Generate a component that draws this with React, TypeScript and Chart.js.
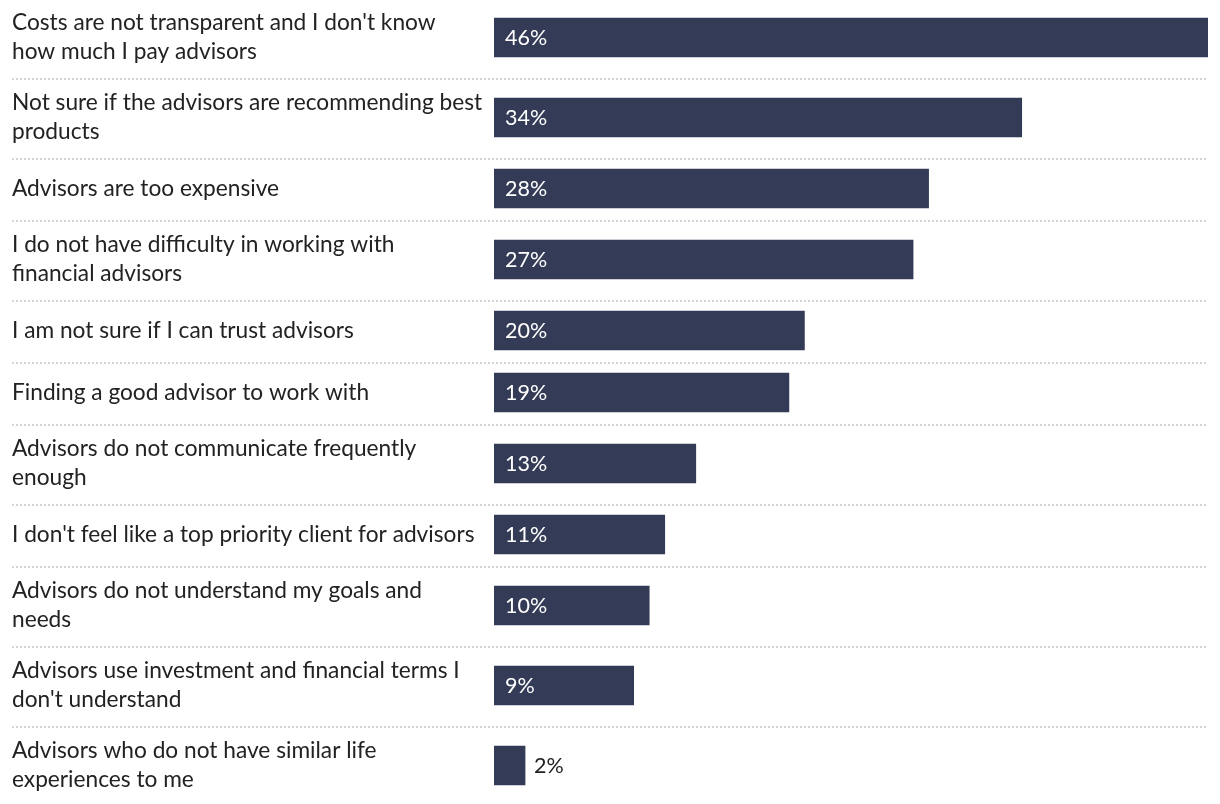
import React, { useEffect, useRef } from "react";
import { Chart, registerables } from "chart.js";

Chart.register(...registerables);

const categories: string[][] = [
  ["Costs are not transparent and I don't know", "how much I pay advisors"],
  ["Not sure if the advisors are recommending best", "products"],
  ["Advisors are too expensive"],
  ["I do not have difficulty in working with", "financial advisors"],
  ["I am not sure if I can trust advisors"],
  ["Finding a good advisor to work with"],
  ["Advisors do not communicate frequently", "enough"],
  ["I don't feel like a top priority client for advisors"],
  ["Advisors do not understand my goals and", "needs"],
  ["Advisors use investment and financial terms I", "don't understand"],
  ["Advisors who do not have similar life", "experiences to me"],
];

const values: number[] = [46, 34, 28, 27, 20, 19, 13, 11, 10, 9, 2];

const FONT = "Lato";
const BAR_COLOR = "#343b57";
const TEXT_COLOR = "#222222";

// row heights derived from the number of label lines
const ROW_ONE = 62;
const ROW_TWO = 80;

export default function App() {
  const ref = useRef<HTMLCanvasElement | null>(null);

  useEffect(() => {
    if (!ref.current) return;
    const heights = categories.map((c) => (c.length > 1 ? ROW_TWO : ROW_ONE));
    const centers: number[] = [];
    const bounds: number[] = [];
    let acc = 0;
    heights.forEach((h, i) => {
      centers.push(acc + h / 2);
      acc += h;
      if (i < heights.length - 1) bounds.push(acc);
    });
    const total = acc;

    const separators = {
      id: "separators",
      beforeDatasetsDraw(chart: any) {
        const ctx = chart.ctx;
        const y = chart.scales.y;
        ctx.save();
        ctx.strokeStyle = "#d6d6d6";
        ctx.lineWidth = 2;
        ctx.setLineDash([2, 2]);
        bounds.forEach((b) => {
          const py = Math.round(y.getPixelForValue(b)) + 1;
          ctx.beginPath();
          ctx.moveTo(12, py);
          ctx.lineTo(chart.chartArea.right, py);
          ctx.stroke();
        });
        ctx.restore();
      },
    };

    const valueLabels = {
      id: "valueLabels",
      afterDatasetsDraw(chart: any) {
        const ctx = chart.ctx;
        const meta = chart.getDatasetMeta(0);
        ctx.save();
        ctx.font = `21.5px ${FONT}`;
        ctx.textBaseline = "middle";
        ctx.textAlign = "left";
        meta.data.forEach((bar: any, i: number) => {
          const text = values[i] + "%";
          const w = ctx.measureText(text).width;
          const len = bar.x - bar.base;
          if (len > w + 20) {
            ctx.fillStyle = "#ffffff";
            ctx.fillText(text, bar.base + 11, bar.y + 1);
          } else {
            ctx.fillStyle = TEXT_COLOR;
            ctx.fillText(text, bar.x + 9, bar.y + 1);
          }
        });
        ctx.restore();
      },
    };

    const chart = new Chart(ref.current, {
      type: "bar",
      data: {
        datasets: [
          {
            data: values.map((v, i) => ({ x: v, y: centers[i] })) as any,
            backgroundColor: BAR_COLOR,
            borderWidth: 0,
            barThickness: 39,
          },
        ],
      },
      options: {
        indexAxis: "y",
        animation: false,
        responsive: true,
        maintainAspectRatio: false,
        layout: { padding: { left: 12, right: 12, top: 0, bottom: 0 } },
        plugins: {
          legend: { display: false },
          tooltip: { enabled: false },
        },
        scales: {
          x: {
            type: "linear",
            min: 0,
            max: 46,
            display: false,
          },
          y: {
            type: "linear",
            reverse: true,
            offset: false,
            min: 2.5,
            max: total - 1.5,
            grid: { display: false },
            border: { display: false },
            afterBuildTicks: (scale: any) => {
              scale.ticks = centers.map((c) => ({ value: c }));
            },
            afterFit: (scale: any) => {
              scale.width = 482;
              scale.paddingTop = 0;
              scale.paddingBottom = 0;
            },
            ticks: {
              autoSkip: false,
              crossAlign: "far",
              color: TEXT_COLOR,
              font: { family: FONT, size: 22.7, lineHeight: 1.27 },
              callback: (v: any) => {
                const idx = centers.indexOf(Number(v));
                return idx >= 0 ? categories[idx] : "";
              },
            },
          },
        },
      },
      plugins: [separators, valueLabels],
    });
    return () => chart.destroy();
  }, []);

  return (
    <div style={{ position: "fixed", left: 0, top: 0, width: 1220, height: 804, background: "#fff" }}>
      <canvas ref={ref} />
    </div>
  );
}
